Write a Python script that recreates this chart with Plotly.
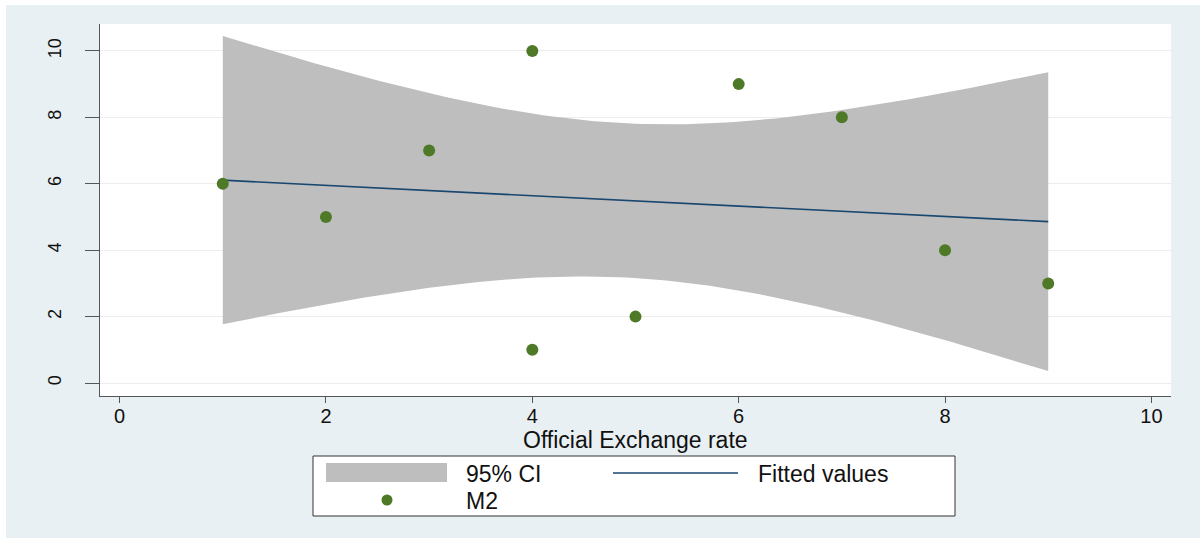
import numpy as np
import plotly.graph_objects as go

# ---- data ----
x_rate = [1, 2, 3, 4, 4, 5, 6, 7, 8, 9]
m2 = [6, 5, 7, 10, 1, 2, 9, 8, 4, 3]
x_ticks = [0, 2, 4, 6, 8, 10]
y_ticks = [0, 2, 4, 6, 8, 10]
legend_labels = ["95% CI", "Fitted values", "M2"]
x_title = "Official Exchange rate"

# ---- linear fit with 95% CI of the mean (as Stata lfitci) ----
xa = np.array(x_rate, dtype=float)
ya = np.array(m2, dtype=float)
n = len(xa)
xm, ym = xa.mean(), ya.mean()
sxx = ((xa - xm) ** 2).sum()
b = ((xa - xm) * (ya - ym)).sum() / sxx
a = ym - b * xm
s = np.sqrt(((ya - (a + b * xa)) ** 2).sum() / (n - 2))
t_crit = 2.306  # t(0.975, 8)
grid = np.linspace(xa.min(), xa.max(), 101)
fit = a + b * grid
se = s * np.sqrt(1.0 / n + (grid - xm) ** 2 / sxx)
lo, hi = fit - t_crit * se, fit + t_crit * se

W, H = 1200, 538
L, R, T, B = 100, 29, 24, 142
pw, ph = W - L - R, H - T - B


def px(xp):
    return (xp - L) / pw


def py(yp):
    return (H - B - yp) / ph


NAVY = "#1A476F"
GREEN = "#4E7A28"
GRAY = "#BEBEBE"
BG = "#E9F0F3"
FONT = "Liberation Sans, Arial, sans-serif"
TXT = "#111111"

fig = go.Figure()
fig.add_trace(go.Scatter(
    x=np.concatenate([grid, grid[::-1]]),
    y=np.concatenate([hi, lo[::-1]]),
    fill="toself", fillcolor=GRAY, line=dict(width=0), mode="lines",
    hoverinfo="skip", showlegend=False))
fig.add_trace(go.Scatter(x=grid, y=fit, mode="lines",
                         line=dict(color=NAVY, width=1.6), showlegend=False))
fig.add_trace(go.Scatter(x=x_rate, y=m2, mode="markers",
                         marker=dict(color=GREEN, size=12), showlegend=False))

shapes = [
    dict(type="rect", xref="paper", yref="paper", layer="below",
         x0=px(6), x1=px(1200), y0=py(538), y1=py(5),
         fillcolor=BG, line=dict(width=0)),
    dict(type="rect", xref="paper", yref="paper", layer="below",
         x0=0, x1=1, y0=0, y1=1, fillcolor="white", line=dict(width=0)),
    # legend box
    dict(type="rect", xref="paper", yref="paper",
         x0=px(313), x1=px(955), y0=py(516), y1=py(456),
         fillcolor="white", line=dict(color="#333333", width=1)),
    dict(type="rect", xref="paper", yref="paper",
         x0=px(326), x1=px(447), y0=py(482), y1=py(463),
         fillcolor=GRAY, line=dict(width=0)),
    dict(type="line", xref="paper", yref="paper",
         x0=px(613), x1=px(738), y0=py(473), y1=py(473),
         line=dict(color=NAVY, width=1.6)),
    dict(type="circle", xref="paper", yref="paper",
         x0=px(381.5), x1=px(392.5), y0=py(505.5), y1=py(494.5),
         fillcolor=GREEN, line=dict(width=0)),
]
annotations = [
    dict(text=legend_labels[0], x=px(464), y=py(474), size=23),
    dict(text=legend_labels[1], x=px(756), y=py(474), size=23),
    dict(text=legend_labels[2], x=px(464), y=py(501), size=23),
]
for an in annotations:
    sz = an.pop("size")
    an.update(xref="paper", yref="paper", xanchor="left", yanchor="middle",
              showarrow=False, font=dict(family=FONT, size=sz, color=TXT))
annotations.append(dict(
    text=x_title, xref="paper", yref="paper", x=0.5, y=py(440),
    xanchor="center", yanchor="middle", showarrow=False,
    font=dict(family=FONT, size=23, color=TXT)))

fig.update_layout(
    width=W, height=H,
    margin=dict(l=L, r=R, t=T, b=B, pad=0),
    paper_bgcolor="white", plot_bgcolor="rgba(0,0,0,0)",
    font=dict(family=FONT, color=TXT),
    showlegend=False,
    shapes=shapes, annotations=annotations,
)
fig.update_xaxes(
    range=[-0.19, 10.19], tickvals=x_ticks, ticks="outside", ticklen=6,
    tickcolor="#555555", showline=True, linecolor="#555555", linewidth=1.3,
    showgrid=False, zeroline=False, tickfont=dict(size=20),
    ticklabelstandoff=-4,
)
fig.update_yaxes(
    range=[-0.39, 10.81], tickvals=y_ticks, ticks="outside", ticklen=14,
    tickcolor="#555555", showline=True, linecolor="#555555", linewidth=1.3,
    showgrid=True, gridcolor="#ECECEC", gridwidth=1, zeroline=False,
    tickangle=-90, tickfont=dict(size=18), ticklabelstandoff=17,
)

fig.write_html("out.html")
